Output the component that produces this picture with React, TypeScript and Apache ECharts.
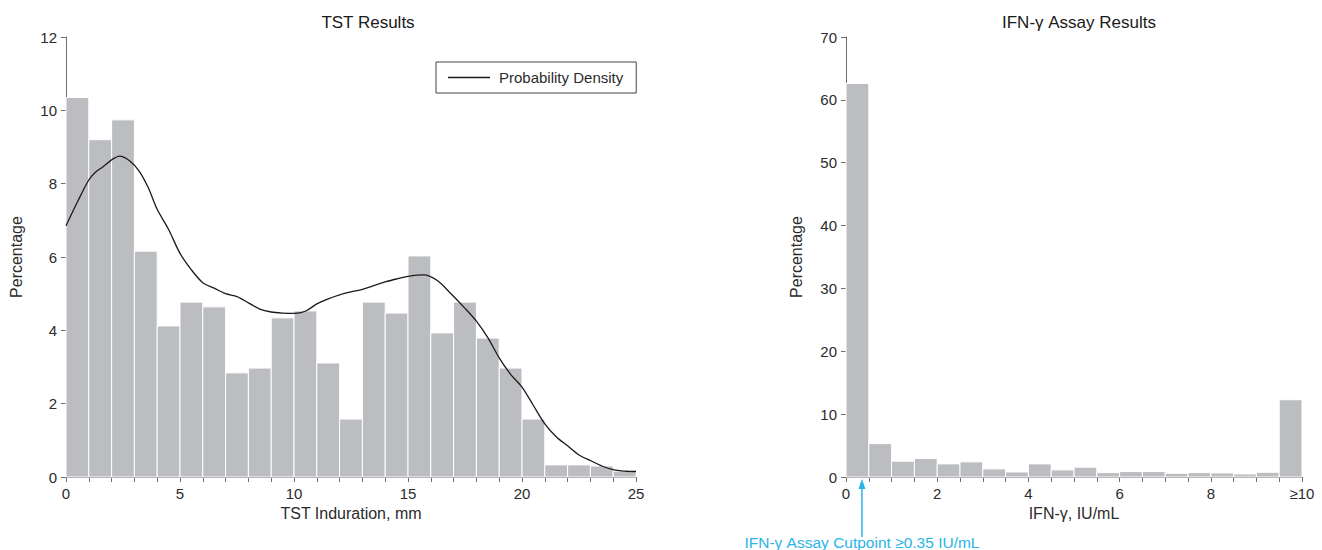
import React, { useEffect, useRef } from "react";
import * as echarts from "echarts";

// TST histogram (bins of 1 mm, 0..25)
const tstValues = [
  10.35, 9.2, 9.74, 6.16, 4.12, 4.77, 4.64, 2.84, 2.97, 4.34, 4.53, 3.11, 1.58,
  4.77, 4.47, 6.03, 3.93, 4.77, 3.79, 2.97, 1.58, 0.33, 0.33, 0.3, 0.16,
];
const tstBinWidth = 1;

// Probability density curve (x in mm, y in %)
const densityX = [
  0, 0.5, 1, 1.3, 1.6, 2, 2.35, 2.8, 3.2, 3.6, 4.0, 4.5, 5.0, 5.5, 6.0, 6.5, 7.0, 7.5,
  8.0, 8.5, 9.0, 9.5, 10.0, 10.5, 11.0, 11.5, 12.0, 12.5, 13.0, 13.5, 14.0, 14.5,
  15.0, 15.7, 16.3, 16.8, 17.5, 18.0, 18.5, 19.0, 19.5, 20.0, 20.5, 21.0, 21.5,
  22.0, 22.5, 23.0, 23.5, 24.0, 24.5, 25.0,
];
const densityY = [
  6.85, 7.5, 8.1, 8.32, 8.45, 8.65, 8.75, 8.62, 8.35, 7.9, 7.3, 6.75, 6.1, 5.65, 5.3,
  5.15, 5.0, 4.92, 4.75, 4.58, 4.5, 4.47, 4.46, 4.52, 4.72, 4.86, 4.97, 5.05,
  5.12, 5.22, 5.32, 5.4, 5.47, 5.51, 5.35, 5.05, 4.6, 4.25, 3.8, 3.25, 2.8, 2.45,
  1.95, 1.45, 1.1, 0.85, 0.6, 0.45, 0.3, 0.2, 0.16, 0.15,
];

// IFN-gamma histogram (bins of 0.5 IU/mL, last bin = ≥10)
const ifnValues = [
  62.6, 5.31, 2.52, 2.95, 2.09, 2.41, 1.29, 0.8, 2.09, 1.13, 1.56, 0.7, 0.86,
  0.86, 0.59, 0.7, 0.64, 0.48, 0.75, 12.29,
];
const ifnBinWidth = 0.5;
const ifnCutpoint = 0.35;

const FONT = "'Liberation Sans', Arial, sans-serif";
const TEXT = "#2b2b2b";
const AXIS = "#6e6e6e";
const BAR = "#bcbdc0";

function histRender(params: any, api: any) {
  const x0 = api.value(0);
  const x1 = api.value(1);
  const y = api.value(2);
  const p0 = api.coord([x0, y]);
  const p1 = api.coord([x1, 0]);
  return {
    type: "rect",
    shape: { x: p0[0], y: p0[1], width: p1[0] - p0[0], height: p1[1] - p0[1] },
    style: { fill: BAR, stroke: "#ffffff", lineWidth: 1 },
  };
}

export default function App() {
  const ref = useRef<HTMLDivElement>(null);

  useEffect(() => {
    document.body.style.margin = "0";
    if (!ref.current) return;
    const chart = echarts.init(ref.current, undefined, { renderer: "svg" });

    const axisCommon = {
      axisLine: { show: true, lineStyle: { color: AXIS, width: 1 } },
      axisTick: { show: true, length: 5, lineStyle: { color: AXIS } },
      splitLine: { show: false },
      nameTextStyle: { color: TEXT, fontSize: 16, fontFamily: FONT },
    };
    const labelStyle = { color: TEXT, fontSize: 15, fontFamily: FONT };

    chart.setOption({
      animation: false,
      title: [
        {
          text: "TST Results",
          left: 363,
          textAlign: "center",
          top: 9,
          textStyle: { color: "#1a1a1a", fontSize: 17, fontWeight: "normal", fontFamily: FONT },
        },
        {
          text: "IFN-γ Assay Results",
          left: 1074,
          textAlign: "center",
          top: 9,
          textStyle: { color: "#1a1a1a", fontSize: 17, fontWeight: "normal", fontFamily: FONT },
        },
      ],
      legend: {
        data: [{ name: "Probability Density", icon: "rect", itemStyle: { color: "#1a1a1a" } }],
        left: 436,
        top: 62,
        orient: "horizontal",
        borderColor: "#444",
        borderWidth: 1,
        padding: [8, 13, 8, 12],
        itemWidth: 42,
        itemHeight: 1.5,
        textStyle: { color: TEXT, fontSize: 15, fontFamily: FONT, padding: [0, 0, 0, 4] },
      },
      grid: [
        { left: 66, width: 570, top: 37, height: 440 },
        { left: 846, width: 456, top: 37, height: 440 },
      ],
      xAxis: [
        {
          ...axisCommon,
          type: "value",
          gridIndex: 0,
          min: 0,
          max: 25,
          interval: tstBinWidth,
          name: "TST Induration, mm",
          nameLocation: "middle",
          nameGap: 26,
          axisLabel: {
            ...labelStyle,
            margin: 9,
            formatter: (v: number) => (v % 5 === 0 ? String(v) : ""),
          },
        },
        {
          ...axisCommon,
          type: "value",
          gridIndex: 1,
          min: 0,
          max: 10,
          interval: ifnBinWidth,
          name: "IFN-γ, IU/mL",
          nameLocation: "middle",
          nameGap: 26,
          axisLabel: {
            ...labelStyle,
            margin: 9,
            formatter: (v: number) =>
              v === 10 ? "≥10" : v % 2 === 0 ? String(v) : "",
          },
        },
      ],
      yAxis: [
        {
          ...axisCommon,
          type: "value",
          gridIndex: 0,
          min: 0,
          max: 12,
          interval: 2,
          name: "Percentage",
          nameLocation: "middle",
          nameGap: 42,
          axisLabel: { ...labelStyle, margin: 9 },
        },
        {
          ...axisCommon,
          type: "value",
          gridIndex: 1,
          min: 0,
          max: 70,
          interval: 10,
          name: "Percentage",
          nameLocation: "middle",
          nameGap: 42,
          axisLabel: { ...labelStyle, margin: 9 },
        },
      ],
      series: [
        {
          type: "custom",
          name: "TST",
          xAxisIndex: 0,
          yAxisIndex: 0,
          renderItem: histRender,
          encode: { x: [0, 1], y: 2 },
          data: tstValues.map((v, i) => [i * tstBinWidth, (i + 1) * tstBinWidth, v]),
          z: 1,
        },
        {
          type: "line",
          name: "Probability Density",
          xAxisIndex: 0,
          yAxisIndex: 0,
          smooth: 0.3,
          symbol: "none",
          showSymbol: false,
          lineStyle: { color: "#1a1a1a", width: 1.3 },
          itemStyle: { color: "#1a1a1a" },
          data: densityX.map((x, i) => [x, densityY[i]]),
          z: 3,
        },
        {
          type: "custom",
          name: "IFN",
          xAxisIndex: 1,
          yAxisIndex: 1,
          renderItem: histRender,
          encode: { x: [0, 1], y: 2 },
          data: ifnValues.map((v, i) => [i * ifnBinWidth, (i + 1) * ifnBinWidth, v]),
          z: 1,
        },
      ],
    });

    const px = chart.convertToPixel({ xAxisIndex: 1 }, ifnCutpoint) as number;
    const y0 = chart.convertToPixel({ yAxisIndex: 1 }, 0) as number;
    const CYAN = "#29b4e8";
    chart.setOption({
      graphic: [
        {
          type: "line",
          shape: { x1: px, y1: y0 + 11, x2: px, y2: y0 + 60 },
          style: { stroke: CYAN, lineWidth: 1.5 },
        },
        {
          type: "polygon",
          shape: { points: [[px, y0 + 2], [px - 3.5, y0 + 12], [px + 3.5, y0 + 12]] },
          style: { fill: CYAN },
        },
        {
          type: "text",
          x: px,
          y: y0 + 65,
          style: {
            text: "IFN-γ Assay Cutpoint ≥0.35 IU/mL",
            fill: CYAN,
            fontSize: 15.5,
            fontFamily: FONT,
            align: "center",
            verticalAlign: "middle",
          },
        },
      ],
    });

    return () => chart.dispose();
  }, []);

  return <div ref={ref} style={{ width: 1322, height: 550 }} />;
}
